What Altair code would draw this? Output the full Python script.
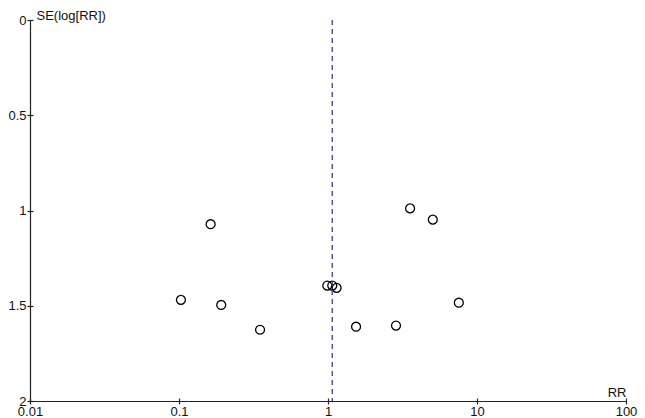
import altair as alt
import pandas as pd

# Study estimates
rr_values = [0.163, 0.103, 0.192, 0.350, 0.989, 1.068, 1.142, 1.543, 2.86, 3.556, 5.05, 7.55]
se_values = [1.072, 1.469, 1.496, 1.626, 1.394, 1.394, 1.406, 1.610, 1.604, 0.989, 1.048, 1.484]
pooled_rr = [1.068]

x_ticks = [0.01, 0.1, 1, 10, 100]
y_ticks = [0, 0.5, 1, 1.5, 2]

FONT = "Liberation Sans"
W, H = 596, 381

df = pd.DataFrame({"rr": rr_values, "se": se_values})
df_pool = pd.DataFrame({"rr": pooled_rr})

xscale = alt.Scale(type="log", domain=[0.01, 100], nice=False)
yscale = alt.Scale(domain=[0, 2], reverse=True, nice=False, zero=False)

common_axis = dict(
    grid=False, domainColor="#222", tickColor="#222", domainWidth=1.2, tickWidth=1.2,
    labelFont=FONT, labelFontSize=13, labelColor="#111", tickSize=3, labelPadding=1,
)

xaxis = alt.Axis(
    orient="bottom", values=x_ticks, labelExpr="'' + datum.value",
    title="RR", titleFont=FONT, titleFontSize=13, titleFontWeight="normal", titleColor="#111",
    titleX=W, titleY=-5, titleAlign="right", titleBaseline="alphabetic", labelFlush=False,
    **common_axis,
)
yaxis = alt.Axis(
    orient="left", values=y_ticks, labelExpr="'' + datum.value",
    title="SE(log[RR])", titleFont=FONT, titleFontSize=13, titleFontWeight="normal", titleColor="#111",
    titleAngle=0, titleX=6, titleY=-1, titleAlign="left", titleBaseline="alphabetic",
    labelBaseline="middle", labelFlush=False,
    **common_axis,
)

points = alt.Chart(df).mark_point(
    shape="circle", filled=False, size=80, color="black", strokeWidth=1.3, opacity=1
).encode(
    x=alt.X("rr:Q", scale=xscale, axis=xaxis),
    y=alt.Y("se:Q", scale=yscale, axis=yaxis),
)

# inward half of the crossing ticks
inner = alt.Chart(df).mark_point(opacity=0).encode(
    x=alt.X("rr:Q", scale=xscale, axis=alt.Axis(
        orient="bottom", values=x_ticks, offset=-3, tickSize=3, tickColor="#222", tickWidth=1.2,
        domain=False, labels=False, grid=False, title=None)),
    y=alt.Y("se:Q", scale=yscale, axis=alt.Axis(
        orient="left", values=y_ticks, offset=-3, tickSize=3, tickColor="#222", tickWidth=1.2,
        domain=False, labels=False, grid=False, title=None)),
)

pool = alt.Chart(df_pool).mark_rule(
    color="#3b3b8f", strokeDash=[5, 4], strokeWidth=1.3
).encode(
    x=alt.X("rr:Q", scale=xscale, axis=None),
)

chart = alt.layer(points, inner, pool).resolve_axis(
    x="independent", y="independent"
).properties(
    width=W, height=H,
    autosize=alt.AutoSizeParams(type="none"),
    padding={"left": 22, "top": 12, "right": 11, "bottom": 16},
    background="white",
).configure_view(stroke=None)

chart.save("out.html", embed_options={"renderer": "svg", "actions": False})
